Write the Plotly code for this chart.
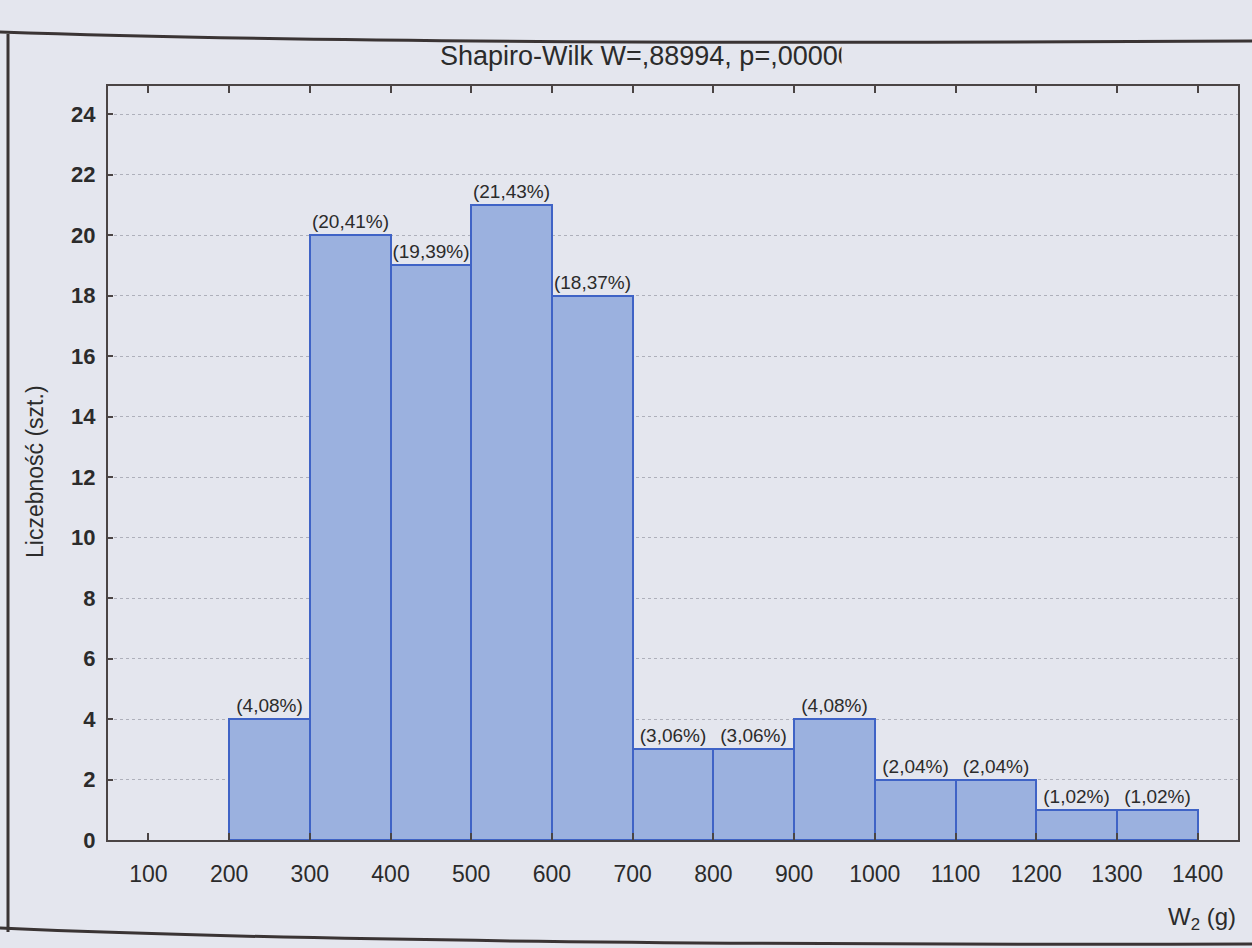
import plotly.graph_objects as go

# Histogram of W2 mass classes (g)
bin_starts = [200, 300, 400, 500, 600, 700, 800, 900, 1000, 1100, 1200, 1300]
bin_width = 100
counts = [4, 20, 19, 21, 18, 3, 3, 4, 2, 2, 1, 1]
x_ticks = [100, 200, 300, 400, 500, 600, 700, 800, 900, 1000, 1100, 1200, 1300, 1400]
y_ticks = list(range(0, 26, 2))

title_text = "Shapiro-Wilk W=,88994, p=,00000"
x_title = "W<sub>2</sub> (g)"
y_title = "Liczebność (szt.)"

total = sum(counts)
centers = [s + bin_width / 2 for s in bin_starts]
labels = ["({:.2f}%)".format(100 * c / total).replace(".", ",") for c in counts]

paper_bg = "#e4e6ee"
bar_fill = "#9bb1df"
bar_edge = "#3f63c6"
axis_col = "#4a4444"
text_col = "#2b2b2b"
font_family = "Liberation Sans, Arial, sans-serif"

fig = go.Figure()
fig.add_trace(go.Bar(
    x=centers,
    y=counts,
    width=[bin_width] * len(counts),
    marker=dict(color=bar_fill, line=dict(color=bar_edge, width=2)),
    text=labels,
    textposition="outside",
    textfont=dict(size=19, color=text_col, family=font_family),
    constraintext="none",
    cliponaxis=False,
    hoverinfo="skip",
))

L, R, T, B = 108, 14, 86, 108
W, H = 1252, 948
pw, ph = W - L - R, H - T - B


def px_x(px):
    return (px - L) / pw


def px_y(py):
    return (H - B - py) / ph


fig.update_layout(
    width=W,
    height=H,
    margin=dict(l=L, r=R, t=T, b=B),
    paper_bgcolor=paper_bg,
    plot_bgcolor=paper_bg,
    showlegend=False,
    bargap=0,
    font=dict(family=font_family, color=text_col),
)

fig.update_xaxes(
    range=[50, 1450],
    tickmode="array",
    tickvals=x_ticks,
    ticktext=[str(v) for v in x_ticks],
    ticks="inside",
    ticklen=7,
    tickwidth=2,
    tickcolor=axis_col,
    showline=True,
    linecolor=axis_col,
    linewidth=2,
    mirror="ticks",
    showgrid=False,
    zeroline=False,
    tickfont=dict(size=23, color=text_col),
    ticklabelstandoff=12,
)

fig.update_yaxes(
    range=[0, 24.93],
    tickmode="array",
    tickvals=y_ticks,
    ticks="inside",
    ticklen=5,
    tickwidth=2,
    tickcolor=axis_col,
    showline=True,
    linecolor=axis_col,
    linewidth=2,
    mirror=True,
    showgrid=True,
    gridcolor="#aeb0bb",
    griddash="dot",
    gridwidth=1,
    zeroline=False,
    tickfont=dict(size=22, color=text_col, weight="bold"),
    ticklabelstandoff=6,
)

annotations = [
    # chart title
    dict(text=title_text, xref="paper", yref="paper", x=px_x(438), y=px_y(56),
         xanchor="left", yanchor="middle", showarrow=False,
         font=dict(size=27, color=text_col)),
    # the last glyph of the title is cut off at the frame edge
    dict(text=" ", xref="paper", yref="paper", x=px_x(841), y=px_y(58),
         xanchor="left", yanchor="middle", showarrow=False,
         width=24, height=24, bgcolor=paper_bg),
    # x axis title
    dict(text=x_title, xref="paper", yref="paper", x=px_x(1238), y=px_y(918),
         xanchor="right", yanchor="middle", showarrow=False,
         font=dict(size=24, color=text_col)),
    # y axis title
    dict(text=y_title, xref="paper", yref="paper", x=px_x(35), y=px_y(472),
         xanchor="center", yanchor="middle", textangle=-90, showarrow=False,
         font=dict(size=23, color=text_col)),
]
fig.update_layout(annotations=annotations)

# outer frame around the whole graphic
frame_col = "#3a3434"
x_left, x_right = px_x(8), px_x(1262)
top_path = "M {:.4f},{:.4f} Q {:.4f},{:.4f} {:.4f},{:.4f}".format(
    px_x(0), px_y(32), px_x(400), px_y(46), x_right, px_y(41))
bottom_path = "M {:.4f},{:.4f} Q {:.4f},{:.4f} {:.4f},{:.4f}".format(
    px_x(0), px_y(928), px_x(400), px_y(946), x_right, px_y(944))
fig.add_shape(type="path", path=top_path, xref="paper", yref="paper",
              line=dict(color=frame_col, width=3))
fig.add_shape(type="path", path=bottom_path, xref="paper", yref="paper",
              line=dict(color=frame_col, width=3))
fig.add_shape(type="line", xref="paper", yref="paper",
              x0=x_left, x1=x_left, y0=px_y(34), y1=px_y(932),
              line=dict(color=frame_col, width=3))

fig.write_html("out.html")
